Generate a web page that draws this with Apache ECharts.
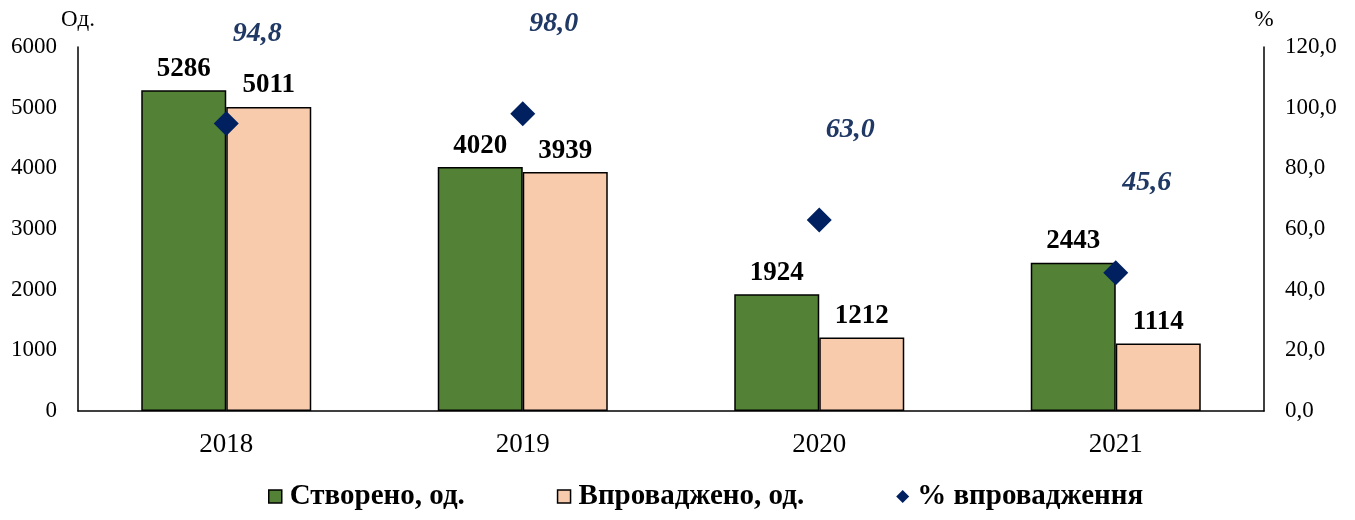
<!DOCTYPE html>
<html>
<head>
<meta charset="utf-8">
<script src="https://cdn.jsdelivr.net/npm/echarts@6/dist/echarts.min.js"></script>
<style>
  html, body { margin: 0; padding: 0; background: #fff; }
  #main { width: 1355px; height: 520px; }
</style>
</head>
<body>
<div id="main"></div>
<script>
var years = ["2018", "2019", "2020", "2021"];
var created = [5286, 4020, 1924, 2443];
var implemented = [5011, 3939, 1212, 1114];
var percent = [94.8, 98.0, 63.0, 45.6];

var font = "'Liberation Serif', 'Times New Roman', serif";

window.onload = function () {
  var myChart = echarts.init(document.getElementById("main"));

  var barLabel = {
    show: true,
    position: "top",
    distance: 8,
    fontFamily: font,
    fontWeight: "bold",
    fontSize: 27,
    color: "#000"
  };

  function comma(v) { return v.toFixed(1).replace(".", ","); }

  var option = {
    animation: false,
    textStyle: { fontFamily: font },
    grid: { left: 78, right: 91, top: 47, bottom: 109 },
    legend: {
      bottom: 4,
      left: 263,
      itemGap: 92,
      itemWidth: 13,
      itemHeight: 13,
      textStyle: { fontFamily: font, fontWeight: "bold", fontSize: 29, color: "#000", padding: [0, 0, 0, 3] },
      data: [
        { name: "Створено, од.", icon: "rect", itemStyle: { borderColor: "#000", borderWidth: 1.5 } },
        { name: "Впроваджено, од.", icon: "rect", itemStyle: { borderColor: "#000", borderWidth: 1.5 } },
        { name: "% впровадження", icon: "diamond" }
      ]
    },
    xAxis: {
      type: "category",
      data: years,
      axisLine: { lineStyle: { color: "#000", width: 1.5 } },
      axisTick: { show: false },
      axisLabel: { fontFamily: font, fontSize: 27, color: "#000", margin: 20 }
    },
    yAxis: [
      {
        type: "value",
        name: "Од.",
        nameLocation: "end",
        nameGap: 16,
        nameTextStyle: { fontFamily: font, fontSize: 23, color: "#000", align: "center" },
        min: 0,
        max: 6000,
        interval: 1000,
        axisLine: { show: true, lineStyle: { color: "#000", width: 1.5 } },
        axisTick: { show: false },
        splitLine: { show: false },
        axisLabel: {
          fontFamily: font, fontSize: 23, color: "#000", margin: 21,
          formatter: function (v) { return String(v); }
        }
      },
      {
        type: "value",
        name: "%",
        nameLocation: "end",
        nameGap: 16,
        nameTextStyle: { fontFamily: font, fontSize: 23, color: "#000", align: "center" },
        min: 0,
        max: 120,
        interval: 20,
        axisLine: { show: true, lineStyle: { color: "#000", width: 1.5 } },
        axisTick: { show: false },
        splitLine: { show: false },
        axisLabel: {
          fontFamily: font, fontSize: 23, color: "#000", margin: 21,
          formatter: comma
        }
      }
    ],
    series: [
      {
        name: "Створено, од.",
        type: "bar",
        data: created,
        barWidth: 85,
        barGap: "0%",
        itemStyle: { color: "#538135", borderColor: "#000", borderWidth: 1.5 },
        label: barLabel
      },
      {
        name: "Впроваджено, од.",
        type: "bar",
        data: implemented,
        barWidth: 85,
        itemStyle: { color: "#F8CBAD", borderColor: "#000", borderWidth: 1.5 },
        label: barLabel
      },
      {
        name: "% впровадження",
        type: "scatter",
        yAxisIndex: 1,
        data: percent,
        symbol: "diamond",
        symbolSize: 25,
        z: 5,
        itemStyle: { color: "#002060", opacity: 1 },
        label: {
          show: true,
          position: "inside",
          offset: [31, -90],
          fontFamily: font,
          fontWeight: "bold",
          fontStyle: "italic",
          fontSize: 28,
          color: "#1F3864",
          formatter: function (p) { return comma(p.value); }
        }
      }
    ]
  };

  myChart.setOption(option);
};
</script>
</body>
</html>
